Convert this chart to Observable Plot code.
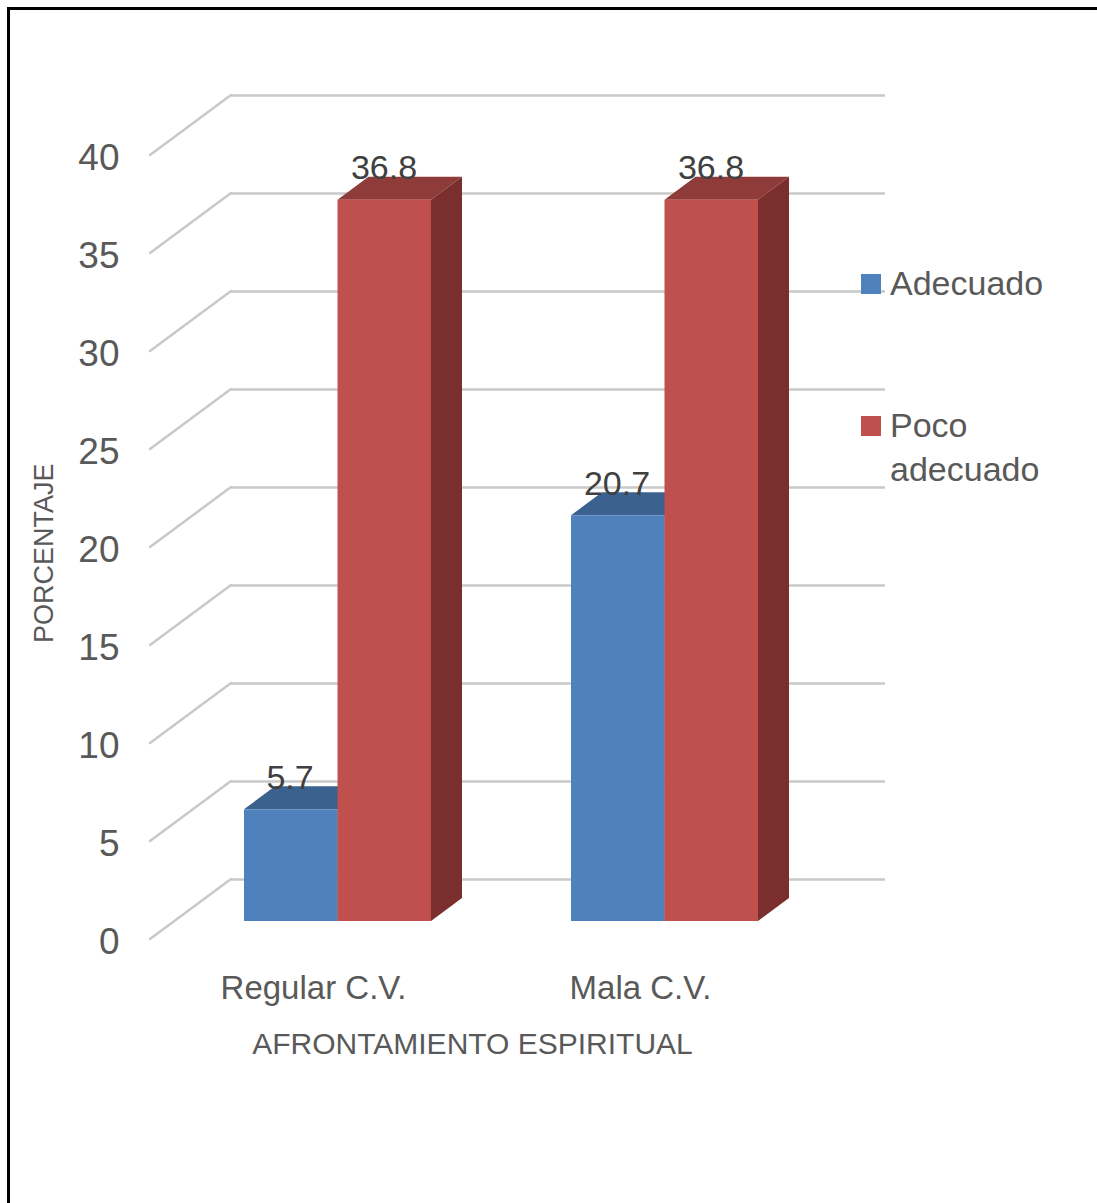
<!DOCTYPE html>
<html>
<head>
<meta charset="utf-8">
<script src="https://cdn.jsdelivr.net/npm/d3@7"></script>
<script src="https://cdn.jsdelivr.net/npm/@observablehq/plot@0.6"></script>
<style>
  body { margin: 0; background: #fff; }
  #wrap { position: relative; width: 1097px; height: 1203px; overflow: hidden; background: #fff; }
  #border { position: absolute; left: 7px; top: 7px; width: 1300px; height: 1400px;
            border-left: 3px solid #000; border-top: 3px solid #000; pointer-events: none; }
  #chart { position: absolute; left: 0; top: 0; }
  .leg { position: absolute; font-family: "Liberation Sans", Arial, sans-serif; font-size: 34px;
         line-height: 44px; color: #595959; width: 165px; }
  .sw { position: absolute; width: 20px; height: 20px; }
</style>
</head>
<body>
<div id="wrap">
  <div id="chart"></div>
  <div id="legend"></div>
  <div id="border"></div>
</div>
<script>
// ---- data ----
const categories = ["Regular C.V.", "Mala C.V."];
const series = ["Adecuado", "Poco adecuado"];
const adecuado = [5.7, 20.7];
const pocoAdecuado = [36.8, 36.8];
const yTicks = [0, 5, 10, 15, 20, 25, 30, 35, 40];
const xTitle = "AFRONTAMIENTO ESPIRITUAL";
const yTitle = "PORCENTAJE";

// ---- styles ----
const frontColors = ["#4F81BD", "#C0504D"];
const topColors = ["#3B618F", "#8F3B39"];
const sideColors = ["#2F4D72", "#7A2E2D"];
const FONT = "Liberation Sans, Arial, sans-serif";
const BAR_DX = 31, BAR_DY = -23;      // bar depth
const FLOOR_DX = -24, FLOOR_DY = 18;  // front edge of floor relative to bar plane
const WALL_DX = 57, WALL_DY = -42;    // back wall relative to bar plane
const HALF = 93.5;                    // half band (one bar)

const seriesValues = [adecuado, pocoAdecuado];
const data = series.flatMap((s, j) =>
  categories.map((c, i) => ({category: c, series: s, j, value: seriesValues[j][i]})));

// left-wall diagonals from the floor front edge to the back wall
function diagonals(index, scales, values, dims) {
  const g = d3.create("svg:g");
  const x0 = dims.marginLeft;
  for (const t of yTicks) {
    const y = scales.y(t);
    g.append("line")
      .attr("x1", x0 + FLOOR_DX).attr("y1", y + FLOOR_DY)
      .attr("x2", x0 + WALL_DX).attr("y2", y + WALL_DY)
      .attr("stroke", "#c9c9c9").attr("stroke-width", 2.5).attr("stroke-linecap", "round");
  }
  return g.node();
}

// top and side faces of the bars of one series
function barDepth(j) {
  return (index, scales) => {
    const g = d3.create("svg:g");
    const half = scales.x.bandwidth ? scales.x.bandwidth() / 2 : HALF;
    for (const d of data.filter(d => d.j === j)) {
      const xL = scales.x(d.category) + j * half, xR = xL + half;
      const yT = scales.y(d.value), y0 = scales.y(0);
      g.append("path")
        .attr("d", `M${xL},${yT}L${xR},${yT}L${xR + BAR_DX},${yT + BAR_DY}L${xL + BAR_DX},${yT + BAR_DY}Z`)
        .attr("fill", topColors[j]);
      g.append("path")
        .attr("d", `M${xR},${yT}L${xR + BAR_DX},${yT + BAR_DY}L${xR + BAR_DX},${y0 + BAR_DY}L${xR},${y0}Z`)
        .attr("fill", sideColors[j]);
    }
    return g.node();
  };
}

const marks = [
  Plot.ruleY(yTicks, {dx: WALL_DX, dy: WALL_DY, stroke: "#c9c9c9", strokeWidth: 2.5}),
  diagonals
];
series.forEach((s, j) => {
  const sub = data.filter(d => d.j === j);
  marks.push(barDepth(j));
  marks.push(Plot.barY(sub, {
    x: "category", y: "value", fill: frontColors[j],
    insetLeft: j === 0 ? 0 : HALF, insetRight: j === 0 ? HALF : 0
  }));
});
series.forEach((s, j) => {
  const sub = data.filter(d => d.j === j);
  marks.push(Plot.text(sub, {
    x: "category", y: "value", text: d => d.value.toFixed(1),
    dx: j === 0 ? -48 : 46, dy: -32, fontSize: 34, fill: "#404040", fontFamily: FONT
  }));
});
marks.push(
  Plot.text(yTicks, {y: d => d, text: d => String(d), frameAnchor: "left", textAnchor: "end",
    dx: -55, dy: 21, fontSize: 37, fill: "#595959", fontFamily: FONT}),
  Plot.text(categories, {x: d => d, text: d => d, frameAnchor: "bottom",
    dx: -24.5, dy: 77, fontSize: 33, fill: "#595959", fontFamily: FONT}),
  Plot.text([xTitle], {text: d => d, frameAnchor: "bottom", dx: -29, dy: 132,
    fontSize: 30, fill: "#595959", fontFamily: FONT}),
  Plot.text([yTitle], {text: d => d, frameAnchor: "left", rotate: -90, dx: -130.5, dy: 113.5,
    fontSize: 27, fill: "#595959", fontFamily: FONT})
);

const chart = Plot.plot({
  width: 1097,
  height: 1203,
  marginLeft: 174,
  marginRight: 269,
  marginTop: 137,
  marginBottom: 282,
  style: {fontFamily: FONT, background: "transparent", overflow: "visible"},
  x: {type: "band", domain: categories, paddingInner: 0.428, paddingOuter: 0.214, axis: null},
  y: {domain: [0, 40], axis: null},
  marks
});
document.getElementById("chart").appendChild(chart);

// legend
const legend = document.getElementById("legend");
const legTops = [261, 403];
series.forEach((s, j) => {
  const sw = document.createElement("div");
  sw.className = "sw";
  sw.style.left = "861px";
  sw.style.top = (legTops[j] + 13) + "px";
  sw.style.background = frontColors[j];
  legend.appendChild(sw);
  const t = document.createElement("div");
  t.className = "leg";
  t.style.left = "890px";
  t.style.top = legTops[j] + "px";
  t.textContent = s;
  legend.appendChild(t);
});
</script>
</body>
</html>
